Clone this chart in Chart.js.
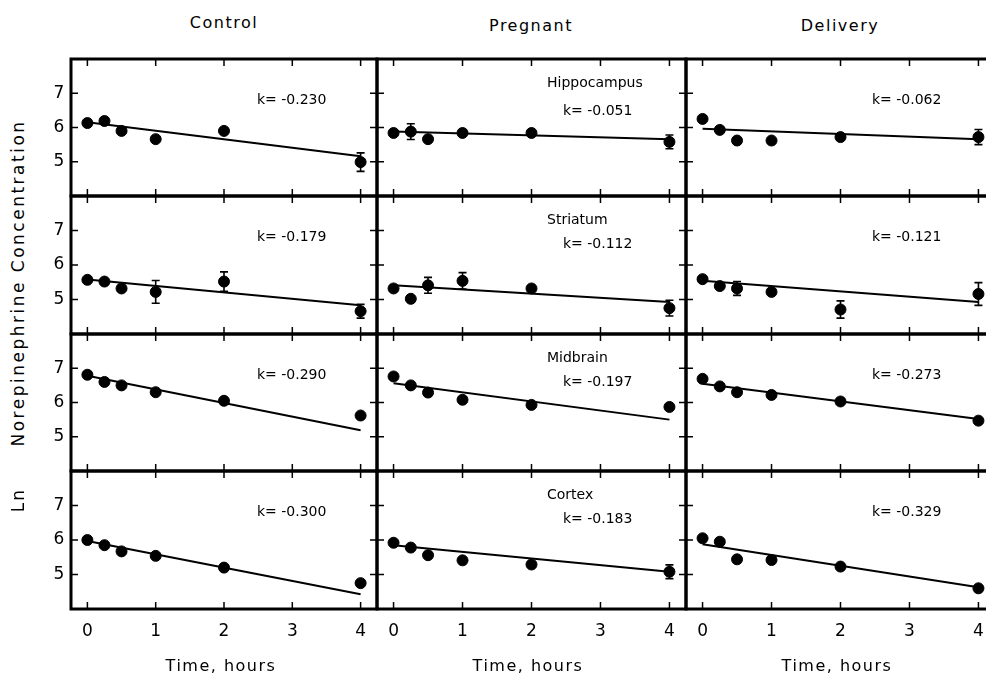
<!DOCTYPE html>
<html>
<head>
<meta charset="utf-8">
<script src="https://cdn.jsdelivr.net/npm/chart.js@4.4.0/dist/chart.umd.min.js"></script>
<style>
  html, body { margin: 0; padding: 0; background: #fff; overflow: hidden; }
  #wrap { position: relative; width: 986px; height: 673px; overflow: hidden; font-family: "DejaVu Sans", sans-serif; color: #000; }
  #wrap canvas { position: absolute; }
  .lbl { position: absolute; white-space: nowrap; transform: translate(-50%, -50%); }
  .ylbl { position: absolute; white-space: nowrap; transform: translate(-50%, -50%) rotate(-90deg); }
</style>
</head>
<body>
<div id="wrap"></div>
<script>
// sampling times (hours) and grid
const times = [0, 0.25, 0.5, 1, 2, 4];
const groups = ["Control", "Pregnant", "Delivery"];
const regions = ["Hippocampus", "Striatum", "Midbrain", "Cortex"];
const xTicks = [0, 1, 2, 3, 4];
const yTicks = [5, 6, 7];

// Ln NE concentration, one row per group (Control, Pregnant, Delivery)
const hippocampus = [
  [6.13, 6.19, 5.90, 5.66, 5.90, 4.99],
  [5.84, 5.88, 5.66, 5.84, 5.84, 5.58],
  [6.25, 5.93, 5.62, 5.62, 5.72, 5.72]
];
const hippocampusErr = [
  [0, 0, 0, 0, 0, 0.27],
  [0, 0.23, 0, 0, 0, 0.20],
  [0, 0, 0, 0, 0, 0.22]
];
const striatum = [
  [5.57, 5.52, 5.32, 5.22, 5.52, 4.66],
  [5.32, 5.02, 5.41, 5.54, 5.32, 4.75],
  [5.59, 5.39, 5.32, 5.22, 4.71, 5.16]
];
const striatumErr = [
  [0, 0, 0, 0.33, 0.28, 0.20],
  [0, 0, 0.23, 0.24, 0, 0.23],
  [0, 0, 0.20, 0, 0.25, 0.33]
];
const midbrain = [
  [6.81, 6.60, 6.50, 6.30, 6.05, 5.62],
  [6.76, 6.50, 6.29, 6.08, 5.93, 5.87],
  [6.69, 6.47, 6.30, 6.22, 6.03, 5.47]
];
const midbrainErr = [
  [0, 0, 0, 0, 0, 0],
  [0, 0, 0, 0, 0, 0],
  [0, 0, 0, 0, 0, 0]
];
const cortex = [
  [6.00, 5.85, 5.67, 5.54, 5.20, 4.75],
  [5.92, 5.78, 5.56, 5.41, 5.29, 5.08],
  [6.05, 5.95, 5.44, 5.42, 5.23, 4.60]
];
const cortexErr = [
  [0, 0, 0, 0, 0, 0],
  [0, 0, 0, 0, 0, 0.20],
  [0, 0, 0, 0, 0, 0]
];

// fitted line values at t=0 and t=4
const fitHippocampus = [[6.15, 5.16], [5.88, 5.66], [5.96, 5.66]];
const fitStriatum = [[5.58, 4.83], [5.41, 4.93], [5.54, 4.93]];
const fitMidbrain = [[6.78, 5.19], [6.56, 5.50], [6.55, 5.52]];
const fitCortex = [[5.97, 4.43], [5.85, 5.08], [5.88, 4.63]];

// rate constants
const kHippocampus = ["-0.230", "-0.051", "-0.062"];
const kStriatum = ["-0.179", "-0.112", "-0.121"];
const kMidbrain = ["-0.290", "-0.197", "-0.273"];
const kCortex = ["-0.300", "-0.183", "-0.329"];

const means = [hippocampus, striatum, midbrain, cortex];
const errs = [hippocampusErr, striatumErr, midbrainErr, cortexErr];
const fits = [fitHippocampus, fitStriatum, fitMidbrain, fitCortex];
const ks = [kHippocampus, kStriatum, kMidbrain, kCortex];

const colEdges = [71, 377, 686, 995];
const rowEdges = [59, 196, 334, 471, 609];
const FONT = '"DejaVu Sans", sans-serif';
const wrap = document.getElementById("wrap");

const panelPlugin = {
  id: "panelPlugin",
  afterDatasetsDraw(chart, args, opts) {
    const ctx = chart.ctx, xs = chart.scales.x, ys = chart.scales.y;
    ctx.save();
    ctx.strokeStyle = "#000";
    ctx.lineWidth = 1.6;
    times.forEach((t, i) => {
      const e = opts.err[i];
      if (!e) return;
      const px = xs.getPixelForValue(t);
      const y1 = ys.getPixelForValue(opts.vals[i] + e);
      const y2 = ys.getPixelForValue(opts.vals[i] - e);
      ctx.beginPath();
      ctx.moveTo(px, y1); ctx.lineTo(px, y2);
      ctx.moveTo(px - 4, y1); ctx.lineTo(px + 4, y1);
      ctx.moveTo(px - 4, y2); ctx.lineTo(px + 4, y2);
      ctx.stroke();
    });
    ctx.restore();
  },
  afterDraw(chart, args, opts) {
    const ctx = chart.ctx, a = chart.chartArea, xs = chart.scales.x, ys = chart.scales.y;
    ctx.save();
    ctx.strokeStyle = "#000";
    ctx.lineWidth = 3;
    ctx.strokeRect(a.left, a.top, a.right - a.left, a.bottom - a.top);
    ctx.lineWidth = 1.5;
    ctx.beginPath();
    xTicks.forEach(t => {
      const px = xs.getPixelForValue(t);
      ctx.moveTo(px, a.top); ctx.lineTo(px, a.top + 7);
      ctx.moveTo(px, a.bottom); ctx.lineTo(px, a.bottom - 7);
    });
    yTicks.forEach(v => {
      const py = ys.getPixelForValue(v);
      ctx.moveTo(a.left, py); ctx.lineTo(a.left + 7, py);
      ctx.moveTo(a.right, py); ctx.lineTo(a.right - 7, py);
    });
    ctx.stroke();

    ctx.fillStyle = "#000";
    ctx.textBaseline = "middle";
    if (opts.col === 0) {
      ctx.font = "17px " + FONT;
      ctx.textAlign = "center";
      yTicks.forEach(v => ctx.fillText(String(v), a.left - 12, ys.getPixelForValue(v)));
    }
    if (opts.row === 3) {
      ctx.font = "17px " + FONT;
      ctx.textAlign = "center";
      xTicks.forEach(t => ctx.fillText(String(t), xs.getPixelForValue(t), a.bottom + 23));
    }
    ctx.textAlign = "left";
    ctx.font = "14px " + FONT;
    if (opts.col === 1) {
      ctx.fillText(opts.region, a.left + 170, a.top + 24);
    }
    const kOff = opts.col === 1 ? (opts.row === 0 ? 52 : 48) : 41;
    ctx.fillText("k= " + opts.k, a.left + 186, a.top + kOff);
    ctx.restore();
  }
};

regions.forEach((region, r) => {
  groups.forEach((group, c) => {
    const padL = c === 0 ? 40 : 3, padR = 3, padT = 3, padB = r === 3 ? 40 : 3;
    const w = colEdges[c + 1] - colEdges[c] + padL + padR;
    const h = rowEdges[r + 1] - rowEdges[r] + padT + padB;
    const cv = document.createElement("canvas");
    cv.width = w; cv.height = h;
    cv.style.left = (colEdges[c] - padL) + "px";
    cv.style.top = (rowEdges[r] - padT) + "px";
    cv.style.width = w + "px"; cv.style.height = h + "px";
    wrap.appendChild(cv);

    const vals = means[r][c];
    new Chart(cv.getContext("2d"), {
      type: "scatter",
      data: {
        datasets: [
          {
            type: "line",
            data: [{ x: 0, y: fits[r][c][0] }, { x: 4, y: fits[r][c][1] }],
            borderColor: "#000",
            borderWidth: 2,
            pointRadius: 0,
            order: 2
          },
          {
            data: times.map((t, i) => ({ x: t, y: vals[i] })),
            backgroundColor: "#000",
            borderColor: "#000",
            pointRadius: 5.5,
            order: 1
          }
        ]
      },
      options: {
        responsive: false,
        animation: false,
        devicePixelRatio: 1,
        events: [],
        layout: { autoPadding: false, padding: { left: padL, right: padR, top: padT, bottom: padB } },
        plugins: {
          legend: { display: false },
          tooltip: { enabled: false },
          panelPlugin: { row: r, col: c, region: region, k: ks[r][c], vals: vals, err: errs[r][c] }
        },
        scales: {
          x: { type: "linear", min: -0.24, max: 4.24, display: false },
          y: { type: "linear", min: 4, max: 8, display: false }
        }
      },
      plugins: [panelPlugin]
    });
  });
});

// column titles and axis titles
function addLabel(text, x, y, size, spacing, cls) {
  const d = document.createElement("div");
  d.className = cls || "lbl";
  d.textContent = text;
  d.style.left = x + "px";
  d.style.top = y + "px";
  d.style.fontSize = size + "px";
  d.style.letterSpacing = spacing + "px";
  wrap.appendChild(d);
}
const titleX = [224, 531, 840];
groups.forEach((g, c) => addLabel(g, titleX[c], c === 0 ? 22 : 25, 16, 1.5));
groups.forEach((g, c) => addLabel("Time, hours", titleX[c] - 3, 665, 16, 1.5));
addLabel("Norepinephrine Concentration", 18, 283, 17, 2.5, "ylbl");
addLabel("Ln", 18, 500, 17, 2, "ylbl");
</script>
</body>
</html>
